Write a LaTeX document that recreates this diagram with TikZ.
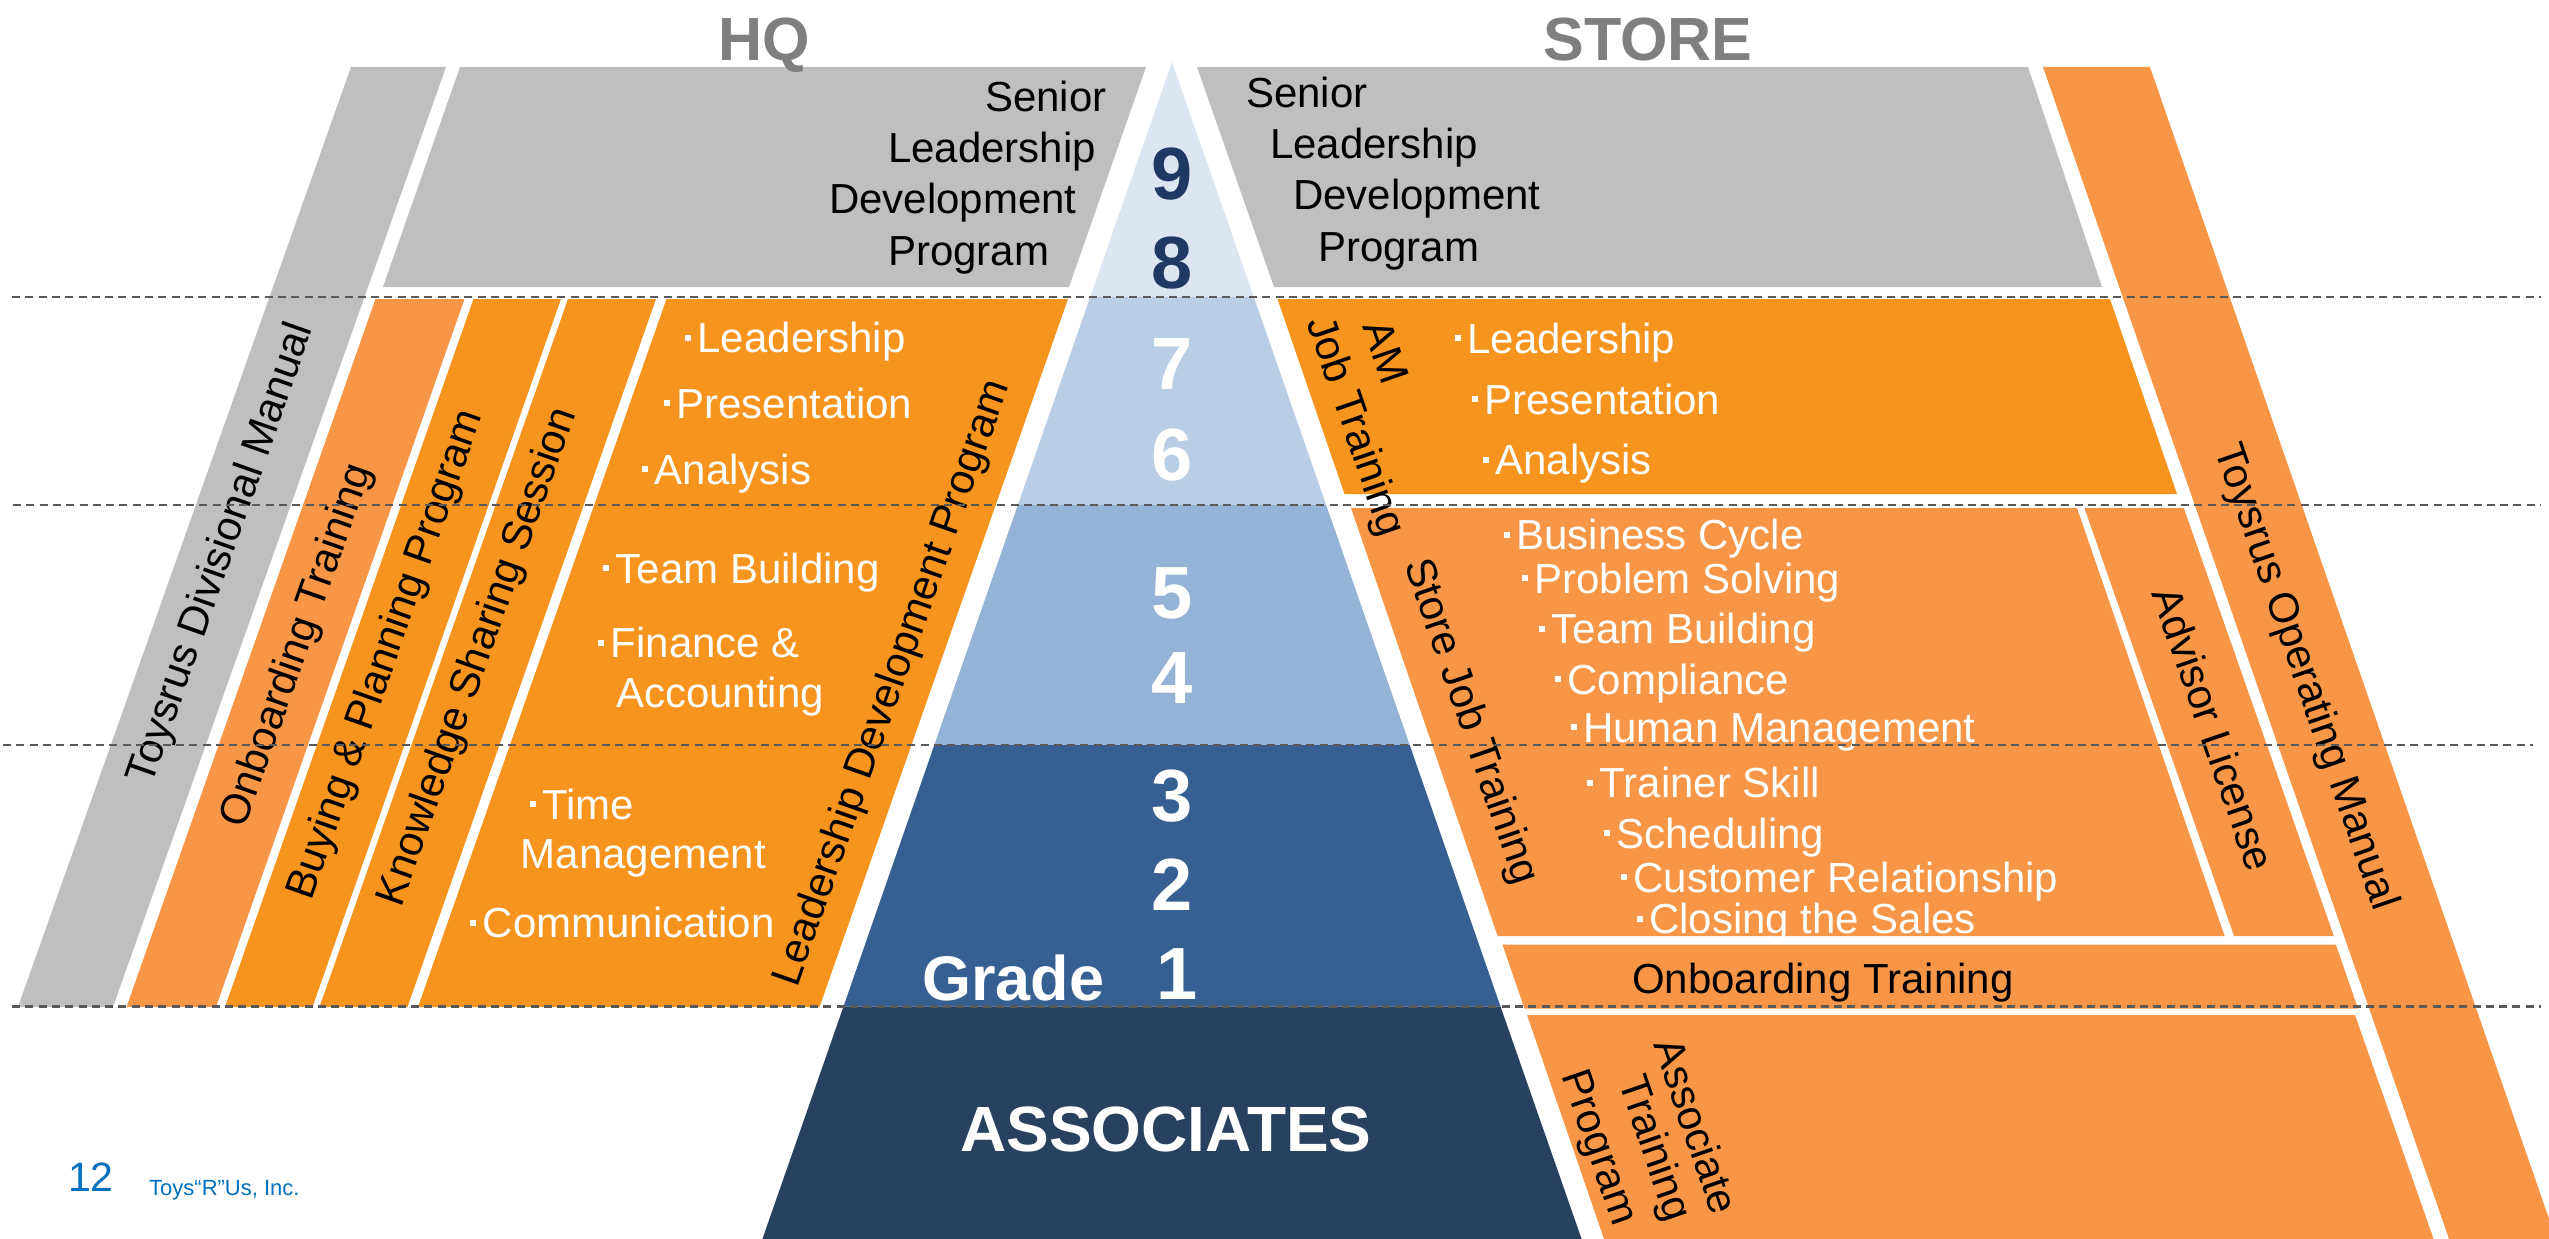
\documentclass[tikz,border=0pt]{standalone}
\usepackage{fontspec}
\setmainfont{Liberation Sans}
\definecolor{cgray}{HTML}{BFBFBF}
\definecolor{corl}{HTML}{F79646}
\definecolor{corg}{HTML}{F7941E}
\definecolor{cp1}{HTML}{DCE6F2}
\definecolor{cp2}{HTML}{B9CDE5}
\definecolor{cp3}{HTML}{95B3D7}
\definecolor{cp4}{HTML}{376092}
\definecolor{cp5}{HTML}{27415F}
\definecolor{cnavy}{HTML}{1F3864}
\definecolor{ctitle}{HTML}{7F7F7F}
\definecolor{cdash}{HTML}{595959}
\definecolor{cblue}{HTML}{0070C0}
\newcommand\sqb{\rule[12pt]{6pt}{6pt}\hspace{6.5pt}}
\begin{document}
\begin{tikzpicture}[x=1pt,y=-1pt,
  grayshape/.style={fill=cgray},
  ltorange/.style={fill=corl},
  dkorange/.style={fill=corg},
  blk/.style={font=\fontsize{42}{50}\selectfont, text=black, inner sep=0pt},
  wht/.style={font=\fontsize{42}{50}\selectfont, text=white, inner sep=0pt, anchor=base west},
  num/.style={font=\fontsize{74}{80}\selectfont\bfseries, text=white, inner sep=0pt, anchor=base},
  ttl/.style={font=\fontsize{61}{70}\selectfont\bfseries, text=ctitle, inner sep=0pt, anchor=base},
  hqrot/.style={blk, rotate=70.6, anchor=center},
  strot/.style={blk, rotate=-71, anchor=center},
  gridline/.style={draw=cdash, line width=2.5pt, dash pattern=on 8pt off 5.3pt}]
\useasboundingbox (0,0) rectangle (2549,1239);
\clip (0,0) rectangle (2549,1239);

% ---------- HQ side shapes ----------
\fill[grayshape] (351,67) -- (446,67) -- (113,1007) -- (18,1007) -- cycle;
\fill[grayshape] (460,67) -- (1146,67) -- (1069,287) -- (383,287) -- cycle;
\fill[ltorange] (375.5,299) -- (464.5,299) -- (216,1007) -- (126.5,1007) -- cycle;
\fill[dkorange] (473.5,299) -- (561,299) -- (312.5,1007) -- (225,1007) -- cycle;
\fill[dkorange] (568,299) -- (656,299) -- (407.5,1007) -- (319.5,1007) -- cycle;
\fill[dkorange] (666.5,299) -- (1068,299) -- (819.5,1007) -- (418,1007) -- cycle;

% ---------- STORE side shapes ----------
\fill[grayshape] (1197,67) -- (2028,67) -- (2102,287) -- (1274,287) -- cycle;
\fill[ltorange] (2043,67) -- (2150,67) -- (2556,1239) -- (2449,1239) -- cycle;
\fill[dkorange] (1277.5,299) -- (2110,299) -- (2177,494) -- (1344.5,494) -- cycle;
\fill[ltorange] (1351,508) -- (2077,508) -- (2224.6,936) -- (1497.6,936) -- cycle;
\fill[ltorange] (2084.4,508) -- (2183.8,508) -- (2333.8,936) -- (2234,936) -- cycle;
\fill[ltorange] (1502.4,944.5) -- (2335.8,944.5) -- (2358,1008.7) -- (1524.5,1008.7) -- cycle;
\fill[ltorange] (1527,1015) -- (2355,1015) -- (2433.6,1239) -- (1604,1239) -- cycle;

% ---------- pyramid ----------
\fill[cp1] (1172,62) -- (1253.8,297) -- (1090.2,297) -- cycle;
\fill[cp2] (1090.2,297) -- (1253.8,297) -- (1326.2,505) -- (1017.8,505) -- cycle;
\fill[cp3] (1017.8,505) -- (1326.2,505) -- (1409.7,745) -- (934.3,745) -- cycle;
\fill[cp4] (934.3,745) -- (1409.7,745) -- (1500.5,1006.5) -- (843.5,1006.5) -- cycle;
\fill[cp5] (843.5,1006.5) -- (1500.5,1006.5) -- (1581.6,1239) -- (762.4,1239) -- cycle;

% ---------- titles ----------
\node[ttl] (hq) at (764.5,60) {HQ};
\node[ttl] (store) at (1648,60) {STORE};

% ---------- senior leadership texts ----------
\node[blk, anchor=base west] (hqs1) at (985,111.5) {Senior};
\node[blk, anchor=base west] (hqs2) at (888,162) {Leadership};
\node[blk, anchor=base west] (hqs3) at (829,213.5) {Development};
\node[blk, anchor=base west] (hqs4) at (888,265) {Program};
\node[blk, anchor=base west] (sts1) at (1246,107.5) {Senior};
\node[blk, anchor=base west] (sts2) at (1270,158) {Leadership};
\node[blk, anchor=base west] (sts3) at (1293,209.6) {Development};
\node[blk, anchor=base west] (sts4) at (1318,261) {Program};

% ---------- grade numbers ----------
\node[num, text=cnavy] (g9) at (1172,199.7) {9};
\node[num, text=cnavy] (g8) at (1172,288.6) {8};
\node[num] (g7) at (1172,389.5) {7};
\node[num] (g6) at (1172,480.4) {6};
\node[num] (g5) at (1172,618) {5};
\node[num] (g4) at (1172,703) {4};
\node[num] (g3) at (1172,821) {3};
\node[num] (g2) at (1172,910) {2};
\node[num] (g1) at (1177,999.5) {1};
\node[inner sep=0pt, anchor=base west, text=white, font=\fontsize{63}{70}\selectfont\bfseries] (grade) at (922,1000) {Grade};
\node[inner sep=0pt, anchor=base, text=white, font=\fontsize{64}{70}\selectfont\bfseries] (assoc) at (1166,1151) {ASSOCIATES};

% ---------- HQ rotated labels ----------
\node[hqrot] (divman) at (222,554) {Toysrus Divisional Manual};
\node[hqrot] (hqonb) at (298,646) {Onboarding Training};
\node[hqrot] (buying) at (386.7,655) {Buying \& Planning Program};
\node[hqrot] (knowledge) at (478.6,657) {Knowledge Sharing Session};
\node[hqrot] (ldp) at (893,683.6) {Leadership Development Program};

% ---------- HQ bullet items ----------
\node[wht] (hq1) at (684.9,352.7) {\sqb Leadership};
\node[wht] (hq2) at (663.7,418) {\sqb Presentation};
\node[wht] (hq3) at (642,484.4) {\sqb Analysis};
\node[wht] (hq4) at (603,583) {\sqb Team Building};
\node[wht] (hq5) at (598,657.5) {\sqb Finance \&};
\node[wht] (hq5b) at (616,707) {Accounting};
\node[wht] (hq6) at (529.4,819.4) {\sqb Time};
\node[wht] (hq6b) at (520.7,868.7) {Management};
\node[wht] (hq7) at (470,937.8) {\sqb Communication};

% ---------- STORE rotated labels ----------
\node[strot] (am) at (1386,352) {AM};
\node[strot] (amjob) at (1354,427) {Job Training};
\node[strot] (sjt) at (1470,722) {Store Job Training};
\node[strot] (advisor) at (2214,729) {Advisor License};
\node[strot] (opman) at (2305,677.6) {Toysrus Operating Manual};
\node[strot] (atp1) at (1697,1126) {Associate};
\node[strot] (atp2) at (1653,1149) {Training};
\node[strot] (atp3) at (1597,1148) {Program};

% ---------- STORE bullet items ----------
\node[wht] (st1) at (1454.7,353) {\sqb Leadership};
\node[wht] (st2) at (1471.8,414) {\sqb Presentation};
\node[wht] (st3) at (1482.9,474.5) {\sqb Analysis};
\begin{scope}
\clip (1351,508) -- (2077,508) -- (2224.6,936) -- (1497.6,936) -- cycle;
\node[wht] (sb1) at (1503.7,549.6) {\sqb Business Cycle};
\node[wht] (sb2) at (1521.6,593) {\sqb Problem Solving};
\node[wht] (sb3) at (1539,643.7) {\sqb Team Building};
\node[wht] (sb4) at (1554.7,694.2) {\sqb Compliance};
\node[wht] (sb5) at (1570.6,742.4) {\sqb Human Management};
\node[wht] (sb6) at (1587,797.6) {\sqb Trainer Skill};
\node[wht] (sb7) at (1603.7,848.2) {\sqb Scheduling};
\node[wht] (sb8) at (1620.8,892.4) {\sqb Customer Relationship};
\node[wht] (sb9) at (1636.3,933.9) {\sqb Closing the Sales};
\end{scope}
\node[blk, anchor=base west] (stonb) at (1632,993) {Onboarding Training};

% ---------- dashed grade lines ----------
\draw[gridline] (12,297) -- (2541,297);
\draw[gridline] (13,505) -- (2541,505);
\draw[gridline] (3,745) -- (2533,745);
\draw[gridline] (12,1006.5) -- (2541,1006.5);

% ---------- footer ----------
\node[inner sep=0pt, anchor=base west, text=cblue, font=\fontsize{41}{48}\selectfont] (pnum) at (68,1191) {12};
\node[inner sep=0pt, anchor=base west, text=cblue, font=\fontsize{22}{26}\selectfont] (corp) at (149,1195) {Toys“R”Us, Inc.};
\end{tikzpicture}
\end{document}
